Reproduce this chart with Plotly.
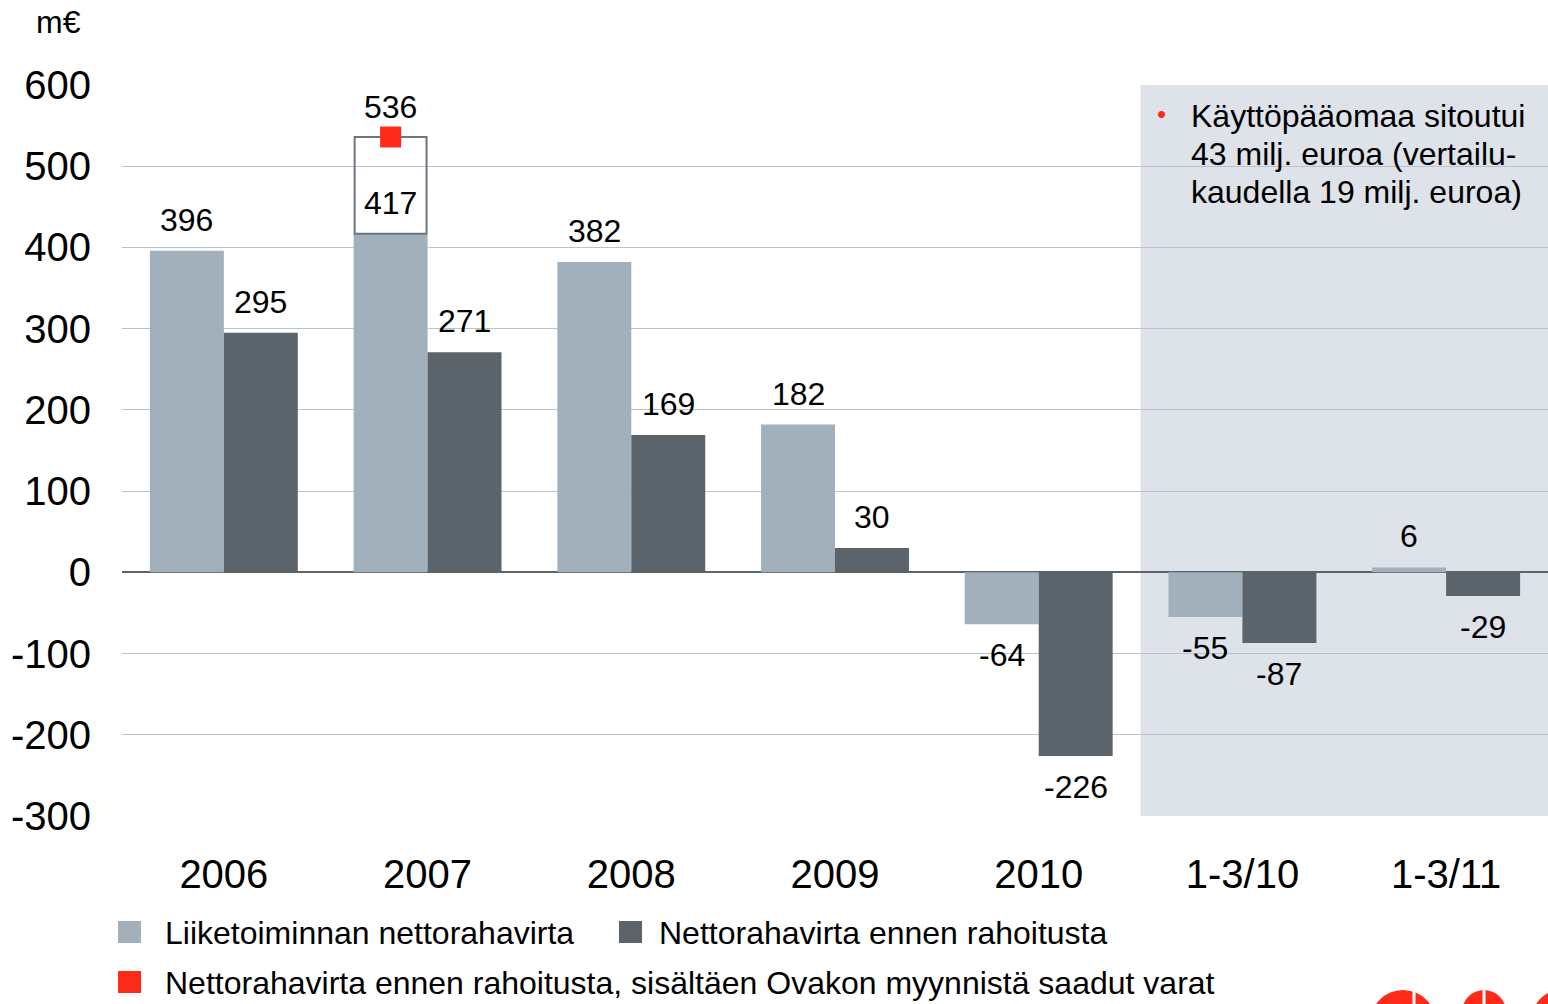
import plotly.graph_objects as go

# ---------------- data ----------------
categories = ["2006", "2007", "2008", "2009", "2010", "1-3/10", "1-3/11"]
operating_cf = [396, 417, 382, 182, -64, -55, 6]            # Liiketoiminnan nettorahavirta
cf_before_financing = [295, 271, 169, 30, -226, -87, -29]   # Nettorahavirta ennen rahoitusta
ovako_category = "2007"
ovako_value = 536                                            # incl. Ovako divestment proceeds
y_ticks = [600, 500, 400, 300, 200, 100, 0, -100, -200, -300]
legend_labels = ["Liiketoiminnan nettorahavirta",
                 "Nettorahavirta ennen rahoitusta",
                 "Nettorahavirta ennen rahoitusta, sisältäen Ovakon myynnistä saadut varat"]
note_lines = ["Käyttöpääomaa sitoutui", "43 milj. euroa (vertailu-", "kaudella 19 milj. euroa)"]
shaded_from = "1-3/10"
unit_label = "m€"

# ---------------- style ----------------
LIGHT = "#a2b0bc"
DARK = "#5b636b"
RED = "#fe2a1a"
SHADE = "#dee2e9"
GRID = "#b9c3cd"
FONT = "Liberation Sans, Arial, sans-serif"

W, H = 1548, 1004
# plot area in page pixels
L, R, T, B = 122, 1548, 85, 816
def px(x):
    return (x - L) / (R - L)
def py(y):
    return (B - y) / (B - T)

idx = list(range(len(categories)))
BW = 0.363

fig = go.Figure()
fig.add_trace(go.Bar(x=idx, y=operating_cf, offset=-BW, width=BW,
                     marker=dict(color=LIGHT, line=dict(width=0)),
                     name=legend_labels[0], showlegend=False))
fig.add_trace(go.Bar(x=idx, y=cf_before_financing, offset=0, width=BW,
                     marker=dict(color=DARK, line=dict(width=0)),
                     name=legend_labels[1], showlegend=False))

oi = categories.index(ovako_category)
fig.add_trace(go.Bar(x=[oi], base=[operating_cf[oi]], y=[ovako_value - operating_cf[oi]],
                     offset=-BW + 0.005, width=BW - 0.01,
                     marker=dict(color="rgba(0,0,0,0)", line=dict(color="#6d757d", width=2)),
                     showlegend=False))
fig.add_trace(go.Scatter(x=[oi - BW / 2], y=[ovako_value], mode="markers",
                         marker=dict(symbol="square", size=21, color=RED, line=dict(width=0)),
                         name=legend_labels[2], showlegend=False))

annotations = []
def val_label(x, v, shift=31):
    annotations.append(dict(x=x, y=v, xref="x", yref="y", text=str(v), showarrow=False,
                            yshift=shift if v >= 0 else -shift, yanchor="middle",
                            font=dict(size=32, color="black", family=FONT)))

for i in idx:
    val_label(i - BW / 2, operating_cf[i])
    val_label(i + BW / 2, cf_before_financing[i])
val_label(oi - BW / 2, ovako_value, shift=30)

# unit label
annotations.append(dict(x=px(58), y=py(22), xref="paper", yref="paper", text=unit_label,
                        showarrow=False, xanchor="center", yanchor="middle",
                        font=dict(size=32, color="black", family=FONT)))
# note in shaded area
annotations.append(dict(x=px(1161), y=py(114), xref="paper", yref="paper", text="•",
                        showarrow=False, xanchor="center", yanchor="middle",
                        font=dict(size=26, color=RED, family=FONT)))
for k, line in enumerate(note_lines):
    annotations.append(dict(x=px(1189), y=py(116 + 38 * k), xref="paper", yref="paper",
                            text=line, align="left",
                            showarrow=False, xanchor="left", yanchor="middle",
                            font=dict(size=32, color="black", family=FONT)))

# manual legend
shapes = []
legend_items = [(118, 932, LIGHT, legend_labels[0], 163),
                (619, 932, DARK, legend_labels[1], 657),
                (118, 982, RED, legend_labels[2], 163)]
for sx, cy, col, lab, tx in legend_items:
    shapes.append(dict(type="rect", xref="paper", yref="paper",
                       x0=px(sx), x1=px(sx + 23), y0=py(cy + 11), y1=py(cy - 11),
                       fillcolor=col, line=dict(width=0)))
    annotations.append(dict(x=px(tx), y=py(cy + 1), xref="paper", yref="paper", text=lab,
                            showarrow=False, xanchor="left", yanchor="middle",
                            font=dict(size=32, color="black", family=FONT)))

# shaded period
si = categories.index(shaded_from)
shapes.append(dict(type="rect", xref="x", yref="y", x0=si - 0.5, x1=len(categories) - 0.5,
                   y0=min(y_ticks), y1=max(y_ticks), fillcolor=SHADE, line=dict(width=0),
                   layer="below"))

# partial logo at bottom right
for (x0, x1, y0) in [(1370, 1436, 990), (1462, 1506, 990), (1532, 1590, 990)]:
    shapes.append(dict(type="circle", xref="paper", yref="paper",
                       x0=px(x0), x1=px(x1), y0=py(y0 + (x1 - x0)), y1=py(y0),
                       fillcolor=RED, line=dict(width=0)))
for gx in [1414, 1484]:
    shapes.append(dict(type="rect", xref="paper", yref="paper",
                       x0=px(gx - 1.5), x1=px(gx + 1.5), y0=py(1010), y1=py(985),
                       fillcolor="white", line=dict(width=0)))

fig.update_layout(
    width=W, height=H,
    margin=dict(l=L, r=W - R, t=T, b=H - B, pad=0),
    paper_bgcolor="white", plot_bgcolor="white",
    barmode="overlay",
    showlegend=False,
    font=dict(family=FONT, color="black"),
    annotations=annotations,
    shapes=shapes,
    xaxis=dict(range=[-0.5, len(categories) - 0.5], tickvals=idx, ticktext=categories,
               showgrid=False, zeroline=False, showline=False, ticks="",
               tickfont=dict(size=40, family=FONT, color="black"), ticklabelstandoff=31),
    yaxis=dict(range=[min(y_ticks), max(y_ticks)], tickvals=y_ticks,
               ticktext=[str(v) for v in y_ticks],
               showgrid=True, gridcolor=GRID, gridwidth=1,
               zeroline=True, zerolinecolor="#5c646c", zerolinewidth=2,
               showline=False, ticks="",
               tickfont=dict(size=40, family=FONT, color="black"), ticklabelstandoff=30),
)

fig.write_html("out.html", config={"displayModeBar": False},
               post_script="document.body.style.margin='0';document.body.style.overflow='hidden';")
